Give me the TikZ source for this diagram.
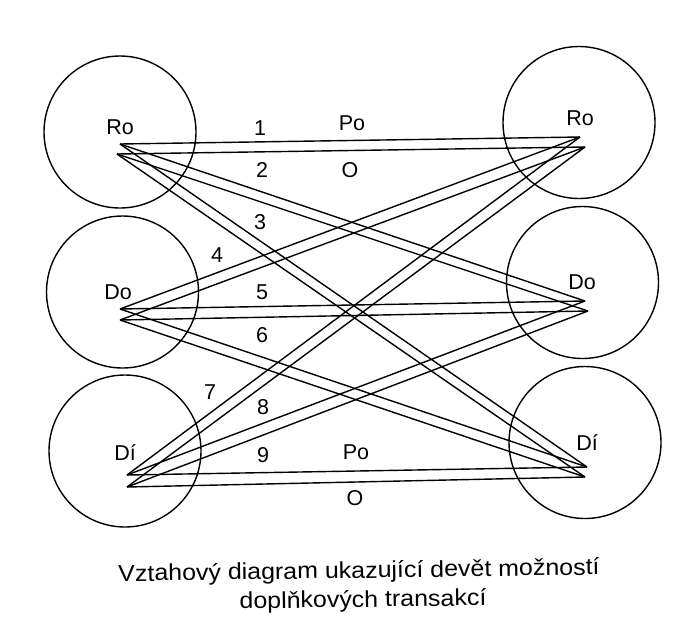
\documentclass[tikz,border=0pt]{standalone}
\usepackage{fontspec}
\setmainfont{Liberation Sans}
\begin{document}
\begin{tikzpicture}[x=1pt,y=-1pt,
  ego/.style={draw,circle,line width=1.4pt,minimum size=152pt,inner sep=0pt},
  lbl/.style={font=\fontsize{21.5}{24}\selectfont,inner sep=0pt},
  tr/.style={line width=1.4pt},
  captext/.style={font=\fontsize{23}{26}\selectfont,inner sep=0pt}]
\useasboundingbox (0,0) rectangle (699,641);
% ego-state circles
\node[ego] (LRo) at (120,132) {};
\node[ego] (LDo) at (122.5,292) {};
\node[ego] (LDi) at (125,451) {};
\node[ego] (RRo) at (579,122.5) {};
\node[ego] (RDo) at (582.5,282.5) {};
\node[ego] (RDi) at (585,442.5) {};
% names
\node[lbl] (tLRo) at (120,127) {Ro};
\node[lbl] (tLDo) at (118,292) {Do};
\node[lbl] (tLDi) at (125,453) {Dí};
\node[lbl] (tRRo) at (580,118) {Ro};
\node[lbl] (tRDo) at (582,282) {Do};
\node[lbl] (tRDi) at (587,443) {Dí};
% end points
\coordinate (aRo) at (120,144); \coordinate (bRo) at (117,154);
\coordinate (aDo) at (120,309); \coordinate (bDo) at (120,320);
\coordinate (aDi) at (127,475); \coordinate (bDi) at (127,487);
\coordinate (cRo) at (580,137); \coordinate (dRo) at (585,147);
\coordinate (cDo) at (585,301); \coordinate (dDo) at (588,311);
\coordinate (cDi) at (587,467); \coordinate (dDi) at (585,477);
% transactions
\foreach \l in {Ro,Do,Di}{
  \foreach \r in {Ro,Do,Di}{
    \draw[tr] (a\l) -- (c\r);
    \draw[tr] (b\l) -- (d\r);
  }
}
% numbers
\node[lbl] (n1) at (260,128) {1};
\node[lbl] (n2) at (262,170) {2};
\node[lbl] (n3) at (260,222) {3};
\node[lbl] (n4) at (217,255) {4};
\node[lbl] (n5) at (262,292) {5};
\node[lbl] (n6) at (262,335) {6};
\node[lbl] (n7) at (210,392) {7};
\node[lbl] (n8) at (263,407) {8};
\node[lbl] (n9) at (263,455) {9};
\node[lbl] (po1) at (352,123) {Po};
\node[lbl] (o1) at (350,170) {O};
\node[lbl] (po2) at (356,452) {Po};
\node[lbl] (o2) at (355,498) {O};
% caption
\node[captext,rotate=0.8] (c1) at (359,572) {\scalebox{1.085}[1]{Vztahový diagram ukazující devět možností}};
\node[captext,rotate=0.8] (c2) at (363,601) {\scalebox{1.085}[1]{doplňkových transakcí}};
\end{tikzpicture}
\end{document}
